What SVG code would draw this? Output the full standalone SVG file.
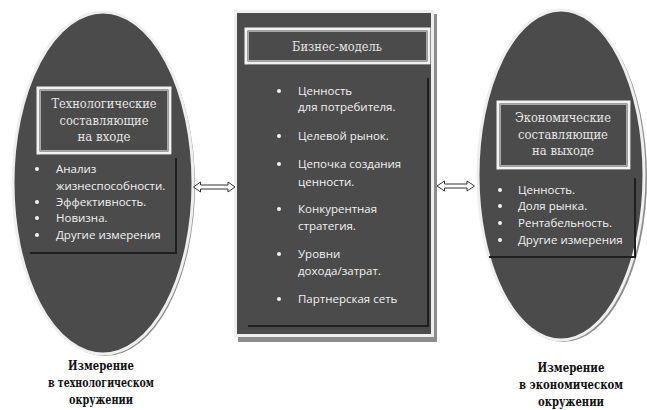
<svg xmlns="http://www.w3.org/2000/svg" width="647" height="410" viewBox="0 0 647 410">
<style>
.shadow{fill:#8c8c8c}
.body{fill:#4b4b4b;stroke:#efefef;stroke-width:3}
.tbox{fill:#4b4b4b;stroke:#f2f2f2;stroke-width:3}
.tin{fill:none;stroke:#a8a8a8;stroke-width:1}
.tshadow{fill:#262626}
.title{font-family:'DejaVu Serif','Liberation Serif',serif;font-size:13.5px;fill:#e6e6e6;text-anchor:middle}
.item{font-family:'Open Sans','Noto Sans',sans-serif;font-size:11.5px;fill:#f2f2f2}
.bul{fill:#f2f2f2}
.panel{fill:none;stroke:#1f1f1f;stroke-width:2}
.cap{font-family:'DejaVu Serif','Liberation Serif',serif;font-size:12px;font-weight:bold;fill:#111;text-anchor:middle}
.arrow{fill:#fff;stroke:#333;stroke-width:1}
</style>
<rect width="647" height="410" fill="#fff"/>

<g id="left-node">
  <ellipse class="shadow" cx="105" cy="185" rx="90" ry="171"/>
  <ellipse class="body" cx="103" cy="183" rx="90" ry="171"/>
  <rect class="tshadow" x="40" y="90" width="132" height="65"/>
  <rect class="tbox" x="38" y="88" width="132" height="65"/>
  <rect class="tin" x="40.5" y="90.5" width="127" height="60"/>
  <text class="title" x="104" y="108" textLength="105" lengthAdjust="spacingAndGlyphs">Технологические</text>
  <text class="title" x="104" y="125" textLength="89" lengthAdjust="spacingAndGlyphs">составляющие</text>
  <text class="title" x="104" y="141" textLength="53" lengthAdjust="spacingAndGlyphs">на входе</text>
  <path class="panel" d="M176,158 V253 H30"/>
  <circle class="bul" cx="37" cy="169" r="2"/>
  <circle class="bul" cx="37" cy="202" r="2"/>
  <circle class="bul" cx="37" cy="218" r="2"/>
  <circle class="bul" cx="37" cy="235" r="2"/>
  <text class="item" x="56" y="173">Анализ</text>
  <text class="item" x="56" y="190">жизнеспособности.</text>
  <text class="item" x="56" y="206">Эффективность.</text>
  <text class="item" x="56" y="222">Новизна.</text>
  <text class="item" x="56" y="239">Другие измерения</text>
</g>

<g id="center-node">
  <rect class="shadow" x="238" y="14" width="199" height="328"/>
  <rect class="body" x="235.5" y="11.5" width="197" height="324"/>
  <rect class="tshadow" x="248" y="31" width="183" height="34"/>
  <rect class="tbox" x="246" y="29" width="183" height="34"/>
  <rect class="tin" x="248.5" y="31.5" width="178" height="29"/>
  <text class="title" x="337" y="50.5" textLength="90" lengthAdjust="spacingAndGlyphs">Бизнес-модель</text>
  <path class="panel" d="M428,78 V326 H248"/>
  <circle class="bul" cx="279" cy="91" r="2"/>
  <circle class="bul" cx="279" cy="136" r="2"/>
  <circle class="bul" cx="279" cy="164" r="2"/>
  <circle class="bul" cx="279" cy="209" r="2"/>
  <circle class="bul" cx="279" cy="254" r="2"/>
  <circle class="bul" cx="279" cy="299" r="2"/>
  <text class="item" x="298" y="95">Ценность</text>
  <text class="item" x="298" y="111">для потребителя.</text>
  <text class="item" x="298" y="140">Целевой рынок.</text>
  <text class="item" x="298" y="168">Цепочка создания</text>
  <text class="item" x="298" y="186">ценности.</text>
  <text class="item" x="298" y="213">Конкурентная</text>
  <text class="item" x="298" y="230">стратегия.</text>
  <text class="item" x="298" y="258">Уровни</text>
  <text class="item" x="298" y="275">дохода/затрат.</text>
  <text class="item" x="298" y="303">Партнерская сеть</text>
</g>

<g id="right-node">
  <ellipse class="shadow" cx="563" cy="177" rx="84" ry="165"/>
  <ellipse class="body" cx="561" cy="175" rx="83" ry="165"/>
  <rect class="tshadow" x="500" y="104" width="131" height="66"/>
  <rect class="tbox" x="498" y="102" width="131" height="66"/>
  <rect class="tin" x="500.5" y="104.5" width="126" height="61"/>
  <text class="title" x="563" y="122" textLength="96" lengthAdjust="spacingAndGlyphs">Экономические</text>
  <text class="title" x="563" y="139" textLength="90" lengthAdjust="spacingAndGlyphs">составляющие</text>
  <text class="title" x="563" y="155" textLength="62" lengthAdjust="spacingAndGlyphs">на выходе</text>
  <path class="panel" d="M635,178 V257 H489"/>
  <circle class="bul" cx="500" cy="190" r="2"/>
  <circle class="bul" cx="500" cy="206" r="2"/>
  <circle class="bul" cx="500" cy="223" r="2"/>
  <circle class="bul" cx="500" cy="240" r="2"/>
  <text class="item" x="518" y="194">Ценность.</text>
  <text class="item" x="518" y="210">Доля рынка.</text>
  <text class="item" x="518" y="227">Рентабельность.</text>
  <text class="item" x="518" y="244">Другие измерения</text>
</g>

<g id="left-caption">
  <text class="cap" x="101" y="370" textLength="66" lengthAdjust="spacingAndGlyphs">Измерение</text>
  <text class="cap" x="101" y="387" textLength="106" lengthAdjust="spacingAndGlyphs">в технологическом</text>
  <text class="cap" x="101" y="404" textLength="64" lengthAdjust="spacingAndGlyphs">окружении</text>
</g>
<g id="right-caption">
  <text class="cap" x="571" y="372" textLength="67" lengthAdjust="spacingAndGlyphs">Измерение</text>
  <text class="cap" x="571" y="389" textLength="104" lengthAdjust="spacingAndGlyphs">в экономическом</text>
  <text class="cap" x="571" y="406" textLength="66" lengthAdjust="spacingAndGlyphs">окружении</text>
</g>

<g id="connectors">
  <polygon class="arrow" points="193.5,187 200.5,182 200.5,185 228,185 228,182 235,187 228,192 228,189 200.5,189 200.5,192"/>
  <polygon class="arrow" points="437,186 444.5,181 444.5,184 467,184 467,181 474.5,186 467,191 467,188 444.5,188 444.5,191"/>
</g>
</svg>
